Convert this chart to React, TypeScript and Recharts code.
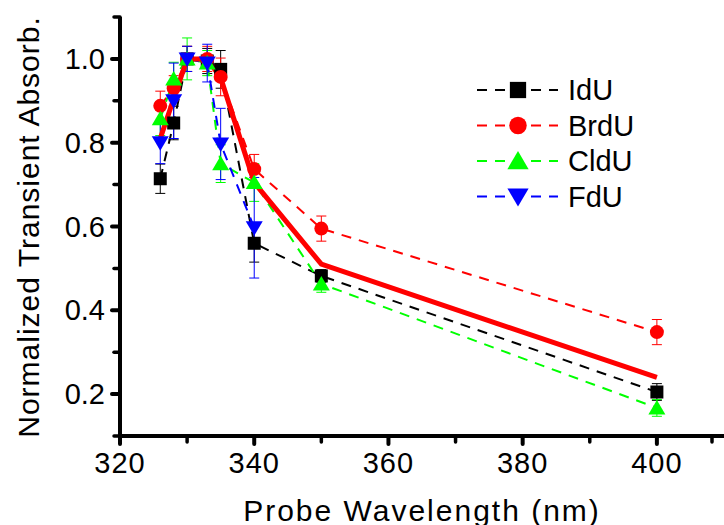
import React from 'react';
import { ComposedChart, Line, XAxis, YAxis, ErrorBar, Legend } from 'recharts';

// probe wavelengths (nm)
const wavelengths = [326, 328, 330, 333, 335, 340, 350, 400];
const fduWavelengths = [326, 328, 330, 333, 335, 340];
const fitWavelengths = [326, 330, 333, 335, 340, 350, 400];

// normalized transient absorbance + error
const idu = [0.714, 0.847, 1.0, 0.995, 0.975, 0.56, 0.482, 0.205];
const iduErr = [0.035, 0.04, 0.03, 0.03, 0.045, 0.045, 0.015, 0.02];
const brdu = [0.888, 0.93, 1.0, 1.0, 0.957, 0.737, 0.595, 0.348];
const brduErr = [0.035, 0.03, 0.03, 0.03, 0.045, 0.035, 0.03, 0.03];
const cldu = [0.857, 0.952, 1.0, 0.99, 0.75, 0.705, 0.463, 0.167];
const clduErr = [0.04, 0.04, 0.05, 0.03, 0.045, 0.045, 0.02, 0.02];
const fdu = [0.8, 0.9, 1.0, 0.99, 0.797, 0.597];
const fduErr = [0.05, 0.09, 0.03, 0.045, 0.085, 0.12];
const fit = [0.81, 1.0, 1.0, 0.955, 0.705, 0.51, 0.24];

const seriesNames = ['IdU', 'BrdU', 'CldU', 'FdU'];
const xTicks = [320, 330, 340, 350, 360, 370, 380, 390, 400, 410];
const xMajorTicks = [320, 340, 360, 380, 400];
const yTicks = [0.1, 0.2, 0.3, 0.4, 0.5, 0.6, 0.7, 0.8, 0.9, 1.0, 1.1];
const yMajorTicks = ['0.2', '0.4', '0.6', '0.8', '1.0'];

const FONT = "'Liberation Sans', Arial, sans-serif";
const BLACK = '#000000';
const RED = '#ff0000';
const GREEN = '#00ff00';
const BLUE = '#0000ff';
const colors = [BLACK, RED, GREEN, BLUE];

const toPoints = (xs: number[], ys: number[], errs?: number[]) =>
  xs.map((x, i) => ({ x, y: ys[i], err: errs ? errs[i] : 0 }));

const iduData = toPoints(wavelengths, idu, iduErr);
const brduData = toPoints(wavelengths, brdu, brduErr);
const clduData = toPoints(wavelengths, cldu, clduErr);
const fduData = toPoints(fduWavelengths, fdu, fduErr);
const fitData = toPoints(fitWavelengths, fit);

function Marker({ kind, cx, cy, big = false }: { kind: number; cx: number; cy: number; big?: boolean }) {
  const s = big ? 1.25 : 1;
  if (kind === 0) {
    const h = 6.5 * s;
    return <rect x={cx - h} y={cy - h} width={h * 2} height={h * 2} fill={BLACK} />;
  }
  if (kind === 1) return <circle cx={cx} cy={cy} r={7 * s} fill={RED} />;
  if (kind === 2) {
    return (
      <polygon
        points={`${cx},${cy - 8 * s} ${cx - 8.5 * s},${cy + 6.5 * s} ${cx + 8.5 * s},${cy + 6.5 * s}`}
        fill={GREEN}
      />
    );
  }
  return (
    <polygon
      points={`${cx},${cy + 8 * s} ${cx - 8.5 * s},${cy - 6.5 * s} ${cx + 8.5 * s},${cy - 6.5 * s}`}
      fill={BLUE}
    />
  );
}

const dotFor = (kind: number) => (props: any) => {
  const { cx, cy, index } = props;
  if (cx == null || cy == null) return <g key={`d-${kind}-${index}`} />;
  return <Marker key={`d-${kind}-${index}`} kind={kind} cx={cx} cy={cy} />;
};

function XTick({ x, y, payload }: any) {
  const v = payload.value;
  const major = xMajorTicks.includes(v);
  return (
    <g>
      <line x1={x} y1={y} x2={x} y2={y + (major ? 8 : 6)} stroke={BLACK} strokeWidth={major ? 4 : 3.5} strokeLinecap="round" />
      {major && (
        <text x={x} y={y + 27} textAnchor="middle" dominantBaseline="central" fontSize={29} fontFamily={FONT} letterSpacing={1} fill={BLACK}>
          {v}
        </text>
      )}
    </g>
  );
}

function YTick({ x, y, payload }: any) {
  const label = Number(payload.value).toFixed(1);
  const major = yMajorTicks.includes(label);
  return (
    <g>
      <line x1={x} y1={y} x2={x - (major ? 8 : 6)} y2={y} stroke={BLACK} strokeWidth={major ? 4 : 3.5} strokeLinecap="round" />
      {major && (
        <text x={x - 15} y={y} textAnchor="end" dominantBaseline="central" fontSize={29} fontFamily={FONT} fill={BLACK}>
          {label}
        </text>
      )}
    </g>
  );
}

function LegendBox() {
  return (
    <svg width={200} height={150}>
      {seriesNames.map((name, i) => {
        const cy = 20 + i * 35.5;
        return (
          <g key={name}>
            <line x1={7} y1={cy} x2={88} y2={cy} stroke={colors[i]} strokeWidth={2} strokeDasharray="10 8" />
            <Marker kind={i} cx={48} cy={cy} big />
            <text x={98} y={cy} dominantBaseline="central" fontSize={29} fontFamily={FONT} fill={BLACK}>
              {name}
            </text>
          </g>
        );
      })}
    </svg>
  );
}

export default function App() {
  const dashed = { strokeWidth: 2, strokeDasharray: '10 8', isAnimationActive: false, activeDot: false, legendType: 'none' as const };
  return (
    <div style={{ position: 'absolute', left: 0, top: 0, width: 724, height: 525, background: '#fff' }}>
      <ComposedChart width={724} height={525} margin={{ top: 17, right: 0, bottom: 0, left: 0 }}>
        <XAxis
          dataKey="x"
          type="number"
          domain={[320, 410]}
          ticks={xTicks}
          allowDataOverflow
          height={89}
          tickSize={0}
          tickMargin={0}
          tickLine={false}
          axisLine={{ stroke: BLACK, strokeWidth: 4 }}
          tick={<XTick />}
          label={{
            content: () => (
              <text x={422} y={510} textAnchor="middle" dominantBaseline="central" fontSize={30} fontFamily={FONT} letterSpacing={2} fill={BLACK}>
                Probe Wavelength (nm)
              </text>
            ),
          }}
        />
        <YAxis
          type="number"
          domain={[0.1, 1.1]}
          ticks={yTicks}
          allowDataOverflow
          width={120}
          tickSize={0}
          tickMargin={0}
          tickLine={false}
          axisLine={{ stroke: BLACK, strokeWidth: 4 }}
          tick={<YTick />}
          label={{
            content: () => (
              <text
                x={28}
                y={227}
                transform="rotate(-90 28 227)"
                textAnchor="middle"
                dominantBaseline="central"
                fontSize={30}
                fontFamily={FONT}
                letterSpacing={1}
                fill={BLACK}
              >
                Normalized Transient Absorb.
              </text>
            ),
          }}
        />
        <Legend
          layout="vertical"
          align="center"
          verticalAlign="middle"
          wrapperStyle={{ left: 470, top: 70, width: 200, height: 150 }}
          content={() => <LegendBox />}
        />
        <Line data={iduData} dataKey="y" stroke={BLACK} dot={dotFor(0)} {...dashed}>
          <ErrorBar dataKey="err" direction="y" width={5} stroke={BLACK} strokeWidth={1} />
        </Line>
        <Line data={brduData} dataKey="y" stroke={RED} dot={dotFor(1)} {...dashed}>
          <ErrorBar dataKey="err" direction="y" width={5} stroke={RED} strokeWidth={1} />
        </Line>
        <Line data={clduData} dataKey="y" stroke={GREEN} dot={dotFor(2)} {...dashed}>
          <ErrorBar dataKey="err" direction="y" width={5} stroke={GREEN} strokeWidth={1} />
        </Line>
        <Line data={fduData} dataKey="y" stroke={BLUE} dot={dotFor(3)} {...dashed}>
          <ErrorBar dataKey="err" direction="y" width={5} stroke={BLUE} strokeWidth={1} />
        </Line>
        <Line
          data={fitData}
          dataKey="y"
          stroke={RED}
          strokeWidth={5}
          dot={false}
          activeDot={false}
          legendType="none"
          isAnimationActive={false}
        />
      </ComposedChart>
    </div>
  );
}
